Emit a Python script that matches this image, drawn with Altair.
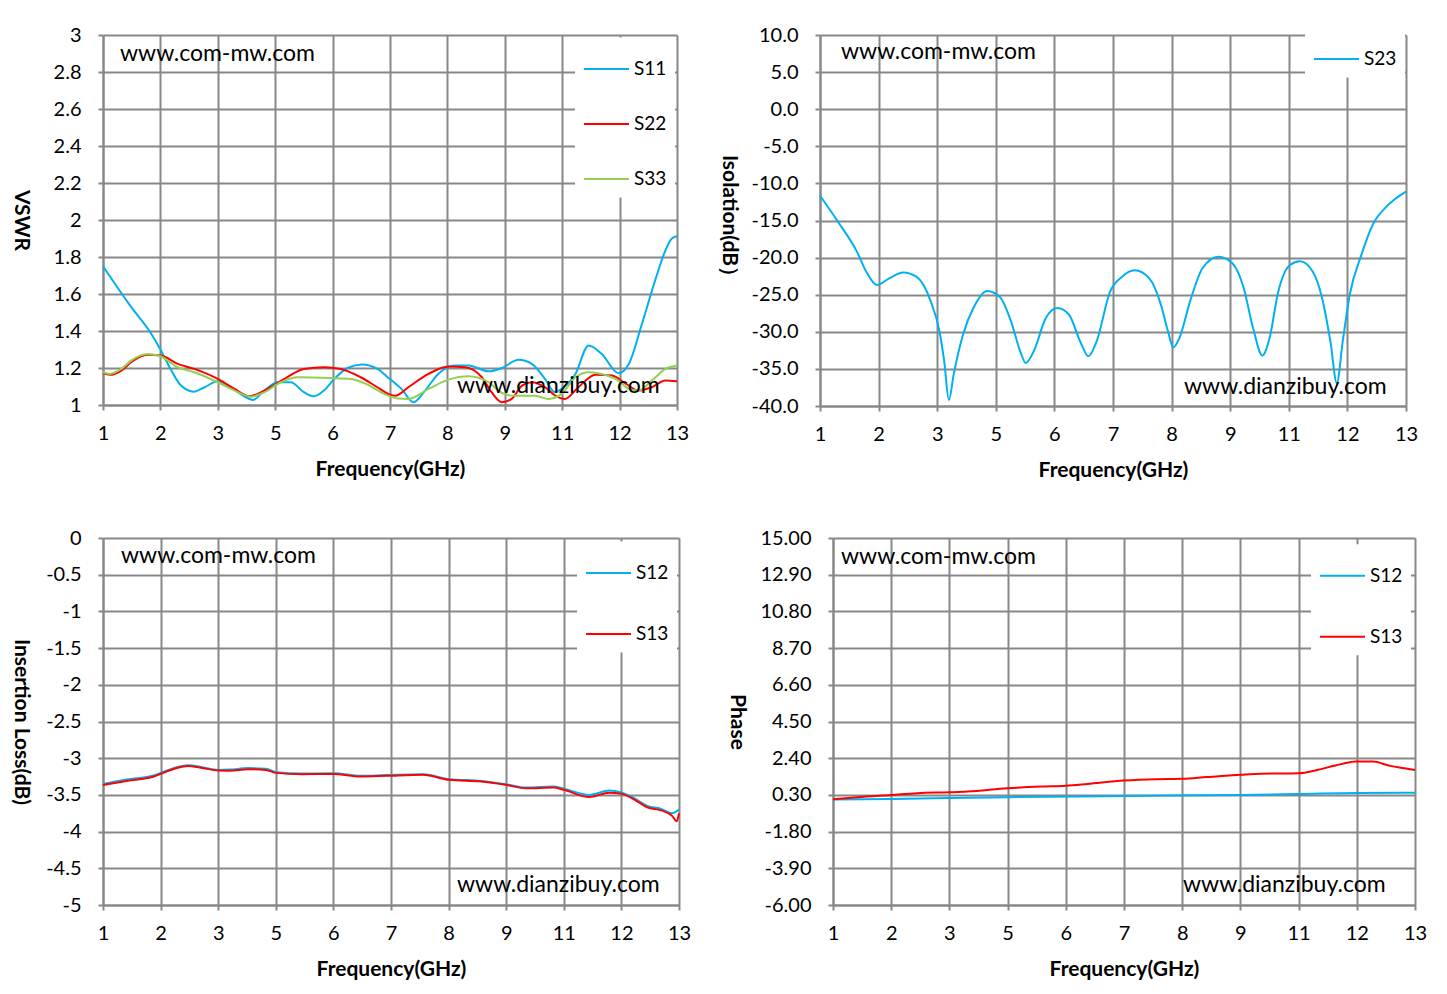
import altair as alt
import pandas as pd

# ---------------- data (x = position index of the category axis) ----------------
TICK_LABELS = ["1", "2", "3", "5", "6", "7", "8", "9", "11", "12", "13"]

# VSWR panel
S11_U = [0, .49, .84, 1.0, 1.13, 1.36, 1.58, 1.77, 2.0, 2.23, 2.46, 2.61, 2.81, 3.04, 3.27, 3.5, 3.67, 3.85, 4.03, 4.26,
         4.52, 4.78, 5.0, 5.2, 5.41, 5.61, 5.84, 6.13, 6.37, 6.72, 6.95, 7.24, 7.47, 7.70, 7.87, 8.0, 8.23, 8.46, 8.69, 8.98,
         9.16, 9.39, 9.62, 9.80, 9.91, 10]
S11_V = [1.75, 1.53, 1.385, 1.30, 1.222, 1.105, 1.072, 1.096, 1.128, 1.096, 1.047, 1.027, 1.078, 1.123, 1.123, 1.069, 1.047,
         1.078, 1.141, 1.20, 1.219, 1.195, 1.14, 1.087, 1.015, 1.078, 1.168, 1.213, 1.213, 1.182, 1.20, 1.244, 1.222, 1.141,
         1.07, 1.09, 1.168, 1.322, 1.276, 1.172, 1.222, 1.439, 1.674, 1.837, 1.90, 1.912]
S22_U = [0, .12, .32, .49, .78, 1.01, 1.30, 1.59, 2.0, 2.29, 2.55, 2.81, 3.16, 3.5, 3.85, 4.14, 4.49, 4.78, 5.0, 5.09,
         5.32, 5.67, 6.02, 6.31, 6.6, 6.77, 6.95, 7.12, 7.30, 7.47, 7.70, 7.88, 8.05, 8.28, 8.58, 8.87, 9.10, 9.33, 9.56,
         9.80, 10]
S22_V = [1.172, 1.163, 1.186, 1.231, 1.271, 1.267, 1.222, 1.195, 1.141, 1.087, 1.047, 1.078, 1.141, 1.195, 1.204, 1.195,
         1.15, 1.096, 1.056, 1.05, 1.096, 1.168, 1.208, 1.204, 1.15, 1.069, 1.015, 1.033, 1.105, 1.123, 1.096, 1.051, 1.033,
         1.096, 1.164, 1.159, 1.117, 1.078, 1.096, 1.132, 1.128]
S33_U = [0, .12, .32, .49, .78, 1.01, 1.30, 1.59, 2.0, 2.29, 2.58, 2.81, 3.10, 3.39, 3.97, 4.32, 4.61, 4.90, 5.13, 5.32,
         5.67, 6.02, 6.37, 6.72, 6.95, 7.18, 7.53, 7.76, 7.99, 8.23, 8.46, 8.69, 8.98, 9.16, 9.33, 9.56, 9.80, 10]
S33_V = [1.177, 1.168, 1.195, 1.24, 1.276, 1.262, 1.204, 1.177, 1.123, 1.078, 1.045, 1.069, 1.123, 1.15, 1.146, 1.141,
         1.11, 1.06, 1.035, 1.033, 1.087, 1.137, 1.155, 1.123, 1.065, 1.05, 1.05, 1.033, 1.06, 1.15, 1.177, 1.168, 1.132,
         1.087, 1.078, 1.132, 1.195, 1.213]
VSWR_TICKS = [1, 1.2, 1.4, 1.6, 1.8, 2, 2.2, 2.4, 2.6, 2.8, 3]

# Isolation panel
S23_U = [0, .31, .63, .79, .97, 1.18, 1.42, 1.65, 1.89, 2.04, 2.12, 2.20, 2.28, 2.44, 2.63, 2.85, 3.07, 3.26, 3.42, 3.51,
         3.66, 3.85, 4.05, 4.25, 4.44, 4.58, 4.72, 4.95, 5.15, 5.37, 5.62, 5.82, 5.94, 6.03, 6.13, 6.33, 6.53, 6.80, 7.04,
         7.23, 7.39, 7.55, 7.67, 7.82, 8.02, 8.19, 8.41, 8.57, 8.71, 8.82, 8.92, 9.04, 9.24, 9.43, 9.67, 10]
S23_V = [-11.65, -15.2, -19.2, -21.9, -23.7, -22.8, -22.0, -22.6, -25.9, -30, -34, -39.2, -35.8, -30.4, -26.6, -24.5,
         -25.3, -28.6, -32.7, -34.2, -32.4, -28.2, -26.8, -27.7, -31.3, -33.3, -31.3, -24.6, -22.6, -21.7, -22.8, -26.4,
         -30, -32.1, -30.9, -25.5, -21.4, -19.9, -20.8, -24.1, -29.5, -33.2, -30.9, -24.6, -21.0, -20.5, -21.9, -25.5,
         -31.3, -36.9, -31.3, -25.0, -19.6, -15.6, -13.1, -11.1]
ISO_TICKS = [10, 5, 0, -5, -10, -15, -20, -25, -30, -35, -40]

# Insertion loss panel
IL13_U = [0, .41, .88, 1.0, 1.27, 1.47, 1.74, 2.0, 2.2, 2.52, 2.83, 3.0, 3.45, 4.0, 4.47, 4.93, 5.56, 6.01, 6.57, 7.0,
          7.35, 7.82, 8.0, 8.44, 8.79, 9.01, 9.22, 9.45, 9.69, 9.88, 9.96, 10]
IL13_V = [-3.364, -3.31, -3.25, -3.214, -3.136, -3.105, -3.136, -3.168, -3.17, -3.15, -3.16, -3.20, -3.218, -3.214,
          -3.25, -3.24, -3.227, -3.295, -3.318, -3.364, -3.41, -3.40, -3.43, -3.53, -3.47, -3.486, -3.56, -3.67, -3.71,
          -3.786, -3.86, -3.75]
IL12_U = [0, .41, .88, 1.0, 1.27, 1.47, 1.74, 2.0, 2.2, 2.52, 2.83, 3.0, 3.45, 4.0, 4.47, 4.93, 5.56, 6.01, 6.57, 7.0,
          7.35, 7.82, 8.0, 8.44, 8.79, 9.01, 9.22, 9.45, 9.69, 9.88, 10]
IL12_V = [-3.35, -3.29, -3.235, -3.20, -3.125, -3.095, -3.125, -3.16, -3.155, -3.135, -3.145, -3.19, -3.21, -3.205,
          -3.24, -3.23, -3.22, -3.285, -3.31, -3.355, -3.40, -3.385, -3.415, -3.50, -3.44, -3.47, -3.545, -3.65, -3.69,
          -3.75, -3.70]
IL_TICKS = [0, -0.5, -1, -1.5, -2, -2.5, -3, -3.5, -4, -4.5, -5]

# Phase panel
PH12_U = [0, 1, 3, 5, 7, 8, 9, 10]
PH12_V = [0.03, 0.07, 0.17, 0.24, 0.30, 0.35, 0.41, 0.42]
PH13_U = [0, .42, 1.01, 1.45, 2.0, 2.31, 3.0, 3.58, 4.0, 4.37, 5.0, 5.55, 6.0, 6.42, 7.01, 7.37, 8.0, 8.32, 8.63, 8.99,
          9.27, 9.58, 9.82, 10]
PH13_V = [0.05, 0.17, 0.30, 0.40, 0.45, 0.49, 0.68, 0.78, 0.83, 0.93, 1.12, 1.20, 1.22, 1.32, 1.45, 1.51, 1.54, 1.73,
          1.98, 2.21, 2.21, 1.96, 1.83, 1.73]
PH_TICKS = [15, 12.9, 10.8, 8.7, 6.6, 4.5, 2.4, 0.3, -1.8, -3.9, -6]

# ---------------- styling ----------------
FONT = "Lato"
GRID = "#888888"
BLUE, RED, GREEN = "#00B0F0", "#FF0000", "#92D050"
MINUS_FIX = "replace(datum.label, '\u2212', '-')"
X_LABEL_EXPR = "[" + ",".join("'" + t + "'" for t in TICK_LABELS) + "][datum.value]"


def frame(series):
    rows = []
    for name, us, vs in series:
        for u, v in zip(us, vs):
            rows.append({"u": u, "v": v, "series": name})
    return pd.DataFrame(rows)


def panel(series, colors, ydom, yticks, yfmt, ytitle, w, h, ext, tpad, lx, ly, rowpad, m1, m2):
    df = frame(series)
    names = [s[0] for s in series]
    x = alt.X("u:Q", scale=alt.Scale(domain=[0, 10], nice=False, zero=False),
              axis=alt.Axis(values=list(range(11)), labelExpr=X_LABEL_EXPR, title="Frequency(GHz)",
                            titlePadding=15, labelPadding=13, labelFlush=False, labelOverlap=False))
    y = alt.Y("v:Q", scale=alt.Scale(domain=ydom, nice=False, zero=False),
              axis=alt.Axis(values=yticks, format=yfmt, labelExpr=MINUS_FIX, title=ytitle, titleAngle=90,
                            titleBaseline="top", minExtent=ext, maxExtent=ext, titlePadding=tpad,
                            labelPadding=17, labelFlush=False, labelOverlap=False))
    color = alt.Color("series:N", scale=alt.Scale(domain=names, range=colors),
                      legend=alt.Legend(orient="none", legendX=lx, legendY=ly, title=None, fillColor="white",
                                        symbolType="stroke", symbolSize=2025, symbolStrokeWidth=2,
                                        labelFont=FONT, labelFontSize=19, labelColor="black", padding=8,
                                        rowPadding=rowpad, labelOffset=4))
    lines = alt.Chart(df).mark_line(strokeWidth=2, interpolate="monotone").encode(x=x, y=y, color=color)
    one = pd.DataFrame({"k": [0]})
    t1 = alt.Chart(one).mark_text(text="www.com-mw.com", align="left", baseline="middle", font=FONT,
                                  fontSize=23, color="black").encode(x=alt.value(m1[0]), y=alt.value(m1[1]))
    t2 = alt.Chart(one).mark_text(text="www.dianzibuy.com", align="left", baseline="middle", font=FONT,
                                  fontSize=23, color="black").encode(x=alt.value(m2[0]), y=alt.value(m2[1]))
    return alt.layer(lines, t1, t2).properties(width=w, height=h)


tl = panel([("S11", S11_U, S11_V), ("S22", S22_U, S22_V), ("S33", S33_U, S33_V)], [BLUE, RED, GREEN],
           [1, 3], VSWR_TICKS, "~g", "VSWR", 574, 370, 58, 14, 472, 2.5, 21, (17, 19), (354, 351))
tr = panel([("S23", S23_U, S23_V)], [BLUE],
           [-40, 10], ISO_TICKS, ".1f", "Isolation(dB）", 586, 371, 70, 11, 485, -7.5, 10, (21, 17), (364, 352))
bl = panel([("S12", IL12_U, IL12_V), ("S13", IL13_U, IL13_V)], [BLUE, RED],
           [-5, 0], IL_TICKS, "~g", "Insertion Loss(dB)", 576, 367, 58, 14, 474, 3.5, 27, (18, 18), (354, 347))
br = panel([("S12", PH12_U, PH12_V), ("S13", PH13_U, PH13_V)], [BLUE, RED],
           [-6, 15], PH_TICKS, ".2f", "Phase", 582, 367, 70, 16, 478, 6.2, 27, (8, 19), (350, 347))

row1 = alt.hconcat(tl, tr, spacing=29).resolve_scale(color="independent")
row2 = alt.hconcat(bl, br, spacing=35).resolve_scale(color="independent")
chart = alt.vconcat(row1, row2, spacing=48).resolve_scale(color="independent").properties(
    padding={"left": 2, "top": 17, "right": 5, "bottom": 5}
).configure_view(stroke=None).configure_axis(
    domainColor=GRID, domainWidth=2, tickColor=GRID, tickWidth=2, tickSize=5,
    gridColor=GRID, gridWidth=2, gridOpacity=1,
    labelFont=FONT, labelFontSize=20, labelColor="black",
    titleFont=FONT, titleFontSize=21, titleFontWeight="bold", titleColor="black"
).configure_legend(strokeColor=None)

chart.save("out.html", embed_options={"renderer": "svg", "actions": False})
